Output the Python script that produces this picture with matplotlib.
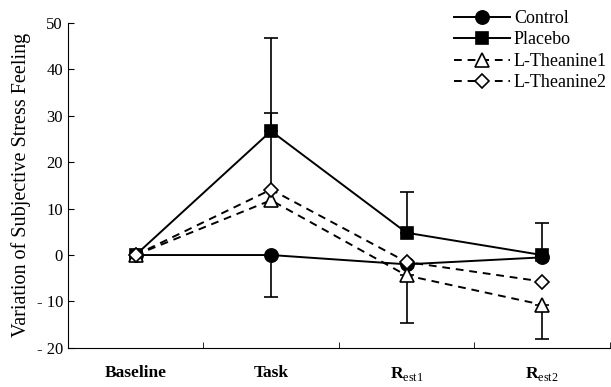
import matplotlib
matplotlib.use("Agg")
import matplotlib.pyplot as plt
import numpy as np

plt.rcParams['font.family'] = ['Liberation Serif', 'DejaVu Serif']
plt.rcParams['mathtext.fontset'] = 'custom'
plt.rcParams['mathtext.rm'] = 'Liberation Serif'

phases = ["Baseline", "Task", "R$_{\\rm est1}$", "R$_{\\rm est2}$"]
control = [0, 0, -2, -0.5]
placebo = [0, 26.7, 4.8, 0]
theanine1 = [0, 11.8, -4.4, -10.7]
theanine2 = [0, 14.1, -1.5, -5.7]

# error bars are drawn one-sided, as in the original figure
control_err_lo = [0, 9, 0, 0]
control_err_hi = [0, 0, 0, 0]
placebo_err_lo = [0, 0, 0, 0]
placebo_err_hi = [0, 20, 8.7, 7]
theanine1_err_lo = [0, 0, 10.3, 7.3]
theanine1_err_hi = [0, 0, 0, 0]
theanine2_err_lo = [0, 0, 0, 0]
theanine2_err_hi = [0, 16.5, 0, 0]

yticks = [-20, -10, 0, 10, 20, 30, 40, 50]
ytick_labels = ["- 20", "- 10", "0", "10", "20", "30", "40", "50"]


def main():
    fig = plt.figure(figsize=(6.11, 3.87), dpi=100)
    ax = fig.add_axes([0.111, 0.101, 0.887, 0.840])
    x = np.arange(len(phases))

    series = [
        (control, control_err_lo, control_err_hi, "o", 9.5, "black", "-", "Control"),
        (placebo, placebo_err_lo, placebo_err_hi, "s", 9, "black", "-", "Placebo"),
        (theanine1, theanine1_err_lo, theanine1_err_hi, "^", 10, "white", "--", "L-Theanine1"),
        (theanine2, theanine2_err_lo, theanine2_err_hi, "D", 7.5, "white", "--", "L-Theanine2"),
    ]
    for vals, lo, hi, mk, ms, fc, ls, lab in series:
        e = np.array([lo, hi], dtype=float)
        for j in range(len(vals)):
            if e[0, j] == 0 and e[1, j] == 0:
                continue
            ax.errorbar([x[j]], [vals[j]], yerr=e[:, j:j + 1], fmt="none",
                        ecolor="black", elinewidth=1.2, capsize=5,
                        capthick=1.2, zorder=2)
    for vals, lo, hi, mk, ms, fc, ls, lab in series:
        ax.plot(x, vals, color="black", linestyle=ls, linewidth=1.4,
                marker=mk, markersize=ms, markerfacecolor=fc,
                markeredgecolor="black", markeredgewidth=1.2,
                dashes=(4, 3) if ls == "--" else (None, None),
                label=lab, zorder=3)

    ax.set_xlim(-0.5, 3.5)
    ax.set_ylim(-20, 50)
    ax.set_yticks(yticks)
    ax.set_yticklabels(ytick_labels, fontsize=12)
    ax.set_xticks(x)
    ax.set_xticklabels(phases, fontsize=12.5, fontweight="bold")
    ax.tick_params(axis="x", length=0, pad=12)
    ax.set_xticks([0.5, 1.5, 2.5, 3.5], minor=True)
    ax.tick_params(axis="x", which="minor", direction="in", length=4)
    ax.tick_params(axis="y", direction="in", length=4)
    ax.spines["top"].set_visible(False)
    ax.spines["right"].set_visible(False)
    ax.set_ylabel("Variation of Subjective Stress Feeling", fontsize=14.5,
                  labelpad=4)

    ax.legend(loc="upper right", bbox_to_anchor=(1.025, 1.09), frameon=False,
              fontsize=13, handlelength=3.1, labelspacing=0.25,
              handletextpad=0.2)

    fig.savefig("out.png", dpi=100)


main()
